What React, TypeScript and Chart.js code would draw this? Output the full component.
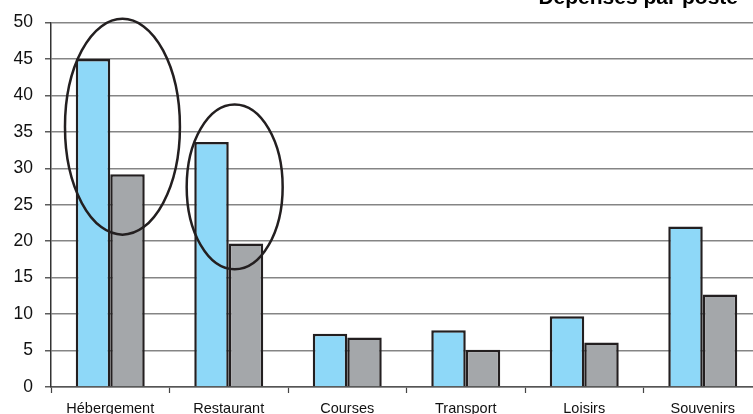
import React, { useEffect, useRef } from "react";
import { Chart, registerables } from "chart.js";

Chart.register(...registerables);

const categories = ["Hébergement", "Restaurant", "Courses", "Transport", "Loisirs", "Souvenirs"];
const seriesBlue = [45, 33.6, 7.3, 7.8, 9.7, 22.0];
const seriesGray = [29.2, 19.7, 6.8, 5.1, 6.1, 12.7];
const yTicks = [0, 5, 10, 15, 20, 25, 30, 35, 40, 45, 50];
const titleText = "Dépenses par poste";
// ellipse annotations: [center category index, center value, x radius (categories), y radius (values)]
const ellipseCx = [0.103, 1.05];
const ellipseCy = [35.7, 27.45];
const ellipseRx = [0.485, 0.405];
const ellipseRy = [14.8, 11.3];

const FONT = "'Liberation Sans', Arial, sans-serif";

export default function App() {
  const ref = useRef<HTMLCanvasElement | null>(null);
  useEffect(() => {
    if (!ref.current) return;
    const annot = {
      id: "annot",
      afterDatasetsDraw(chart: any) {
        const ctx = chart.ctx;
        const x = chart.scales.x;
        const y = chart.scales.y;
        ctx.save();
        ctx.strokeStyle = "#231f20";
        ctx.lineWidth = 2.5;
        for (let i = 0; i < ellipseCx.length; i++) {
          const cx = x.getPixelForValue(ellipseCx[i]);
          const cy = y.getPixelForValue(ellipseCy[i]);
          const rx = Math.abs(x.getPixelForValue(ellipseCx[i] + ellipseRx[i]) - cx);
          const ry = Math.abs(y.getPixelForValue(ellipseCy[i] + ellipseRy[i]) - cy);
          ctx.beginPath();
          ctx.ellipse(cx, cy, rx, ry, 0, 0, Math.PI * 2);
          ctx.stroke();
        }
        ctx.fillStyle = "#000";
        ctx.font = `bold 21px ${FONT}`;
        ctx.textAlign = "right";
        ctx.textBaseline = "alphabetic";
        ctx.fillText(titleText, 738, 3.5);
        ctx.restore();
      },
    };
    const chart = new Chart(ref.current, {
      type: "bar",
      data: {
        labels: categories,
        datasets: [
          {
            data: seriesBlue,
            backgroundColor: "#8ed8f8",
            borderColor: "#231f20",
            borderWidth: 2.5,
            categoryPercentage: 0.582,
            barPercentage: 1,
          },
          {
            data: seriesGray,
            backgroundColor: "#a4a7aa",
            borderColor: "#231f20",
            borderWidth: 2.5,
            categoryPercentage: 0.582,
            barPercentage: 1,
          },
        ],
      },
      options: {
        animation: false,
        responsive: false,
        devicePixelRatio: 1,
        layout: { padding: { top: 19, right: 8, left: 0, bottom: 0 } },
        plugins: { legend: { display: false }, tooltip: { enabled: false }, title: { display: false } },
        scales: {
          x: {
            offset: true,
            grid: {
              offset: true,
              drawOnChartArea: false,
              drawTicks: true,
              tickLength: 6,
              tickColor: "#444",
              tickWidth: 1.2,
            },
            border: { display: true, color: "#555", width: 1.5 },
            ticks: {
              color: "#111",
              font: { family: FONT, size: 14.5 },
              padding: 7,
              maxRotation: 0,
              autoSkip: false,
            },
            afterFit(scale: any) {
              scale.height = 27;
            },
          },
          y: {
            min: 0,
            max: 50,
            afterBuildTicks(scale: any) {
              scale.ticks = yTicks.map((v) => ({ value: v }));
            },
            grid: {
              color: "#858585",
              lineWidth: 1.6,
              drawTicks: true,
              tickLength: 6,
              tickColor: "#333",
              tickWidth: 1.2,
            },
            border: { display: true, color: "#333", width: 1.5 },
            ticks: {
              color: "#111",
              font: { family: FONT, size: 17.5 },
              padding: 12,
            },
            afterFit(scale: any) {
              scale.width = 51;
            },
          },
        },
      },
      plugins: [annot],
    });
    return () => chart.destroy();
  }, []);
  return (
    <div style={{ position: "fixed", left: 0, top: 0, width: 753, height: 414, overflow: "hidden", background: "#fff" }}>
      <canvas ref={ref} width={770} height={414} style={{ display: "block", width: 770, height: 414 }} />
    </div>
  );
}
